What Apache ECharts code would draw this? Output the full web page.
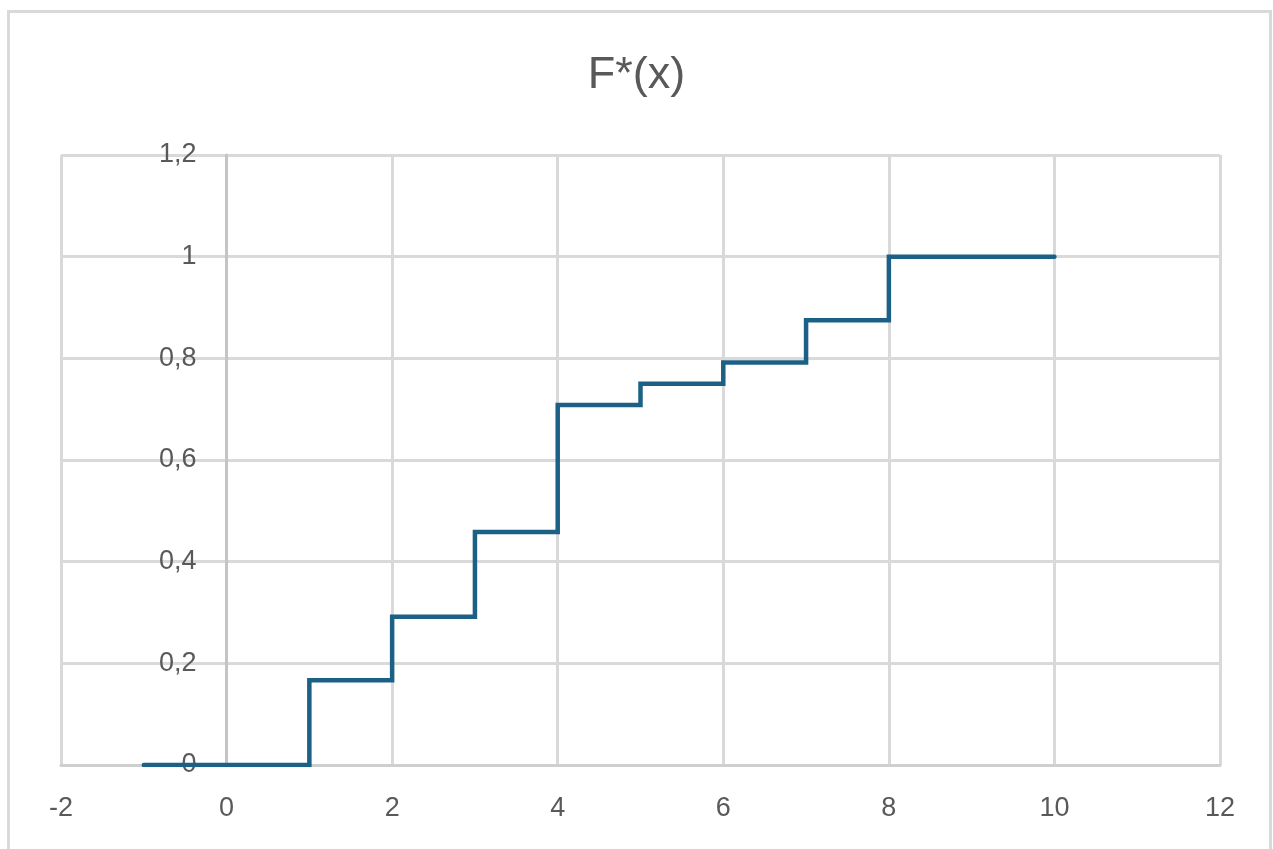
<!DOCTYPE html>
<html>
<head>
<meta charset="utf-8">
<script src="https://cdn.jsdelivr.net/npm/echarts@6/dist/echarts.min.js"></script>
<style>
html,body{margin:0;padding:0;background:#fff;}
#chart{width:1273px;height:849px;}
</style>
</head>
<body>
<div id="chart"></div>
<script>
const titleText = 'F*(x)';
const xValues = [-1, 1, 2, 3, 4, 5, 6, 7, 8, 10];
const yValues = [0, 0.1667, 0.2917, 0.4583, 0.7083, 0.75, 0.7917, 0.875, 1, 1];
const xAxisRange = [-2, 12, 2];
const yAxisRange = [0, 1.2, 0.2];

const FONT = '"Liberation Sans", Arial, sans-serif';
const GRID_LEFT = 61;
const chart = echarts.init(document.getElementById('chart'), null, {renderer: 'canvas'});
const option = {
  animation: false,
  backgroundColor: '#fff',
  graphic: [{
    type: 'rect', silent: true,
    shape: {x: 8.5, y: 11.5, width: 1262, height: 860},
    style: {fill: 'none', stroke: '#d9d9d9', lineWidth: 3}
  }],
  title: {
    text: titleText, left: 'center', top: 48,
    textStyle: {fontFamily: FONT, fontSize: 45, fontWeight: 'normal', color: '#595959'}
  },
  grid: {left: GRID_LEFT, right: 53, top: 155, bottom: 84, containLabel: false, outerBoundsMode: 'none'},
  xAxis: {
    type: 'value', min: xAxisRange[0], max: xAxisRange[1], interval: xAxisRange[2],
    axisLine: {show: true, onZero: true, lineStyle: {color: '#cfcfcf', width: 3}},
    axisTick: {show: false},
    axisLabel: {margin: 30, color: '#595959', fontFamily: FONT, fontSize: 27},
    splitLine: {show: true, lineStyle: {color: '#d9d9d9', width: 3}}
  },
  yAxis: {
    type: 'value', min: yAxisRange[0], max: yAxisRange[1], interval: yAxisRange[2],
    offset: 0,
    axisLine: {show: true, onZero: false, lineStyle: {color: '#c4c4c4', width: 3}},
    axisTick: {show: false},
    axisLabel: {margin: 30, color: '#595959', fontFamily: FONT, fontSize: 27, padding: [5, 0, 0, 0],
      formatter: v => String(Math.round(v * 10) / 10).replace('.', ',')},
    splitLine: {show: true, lineStyle: {color: '#d9d9d9', width: 3}}
  },
  series: [{
    type: 'line', step: 'end', symbol: 'none',
    data: xValues.map((x, i) => [x, yValues[i]]),
    lineStyle: {color: '#1c6185', width: 4.5, cap: 'round', join: 'miter'}
  }]
};
chart.setOption(option);
// place the vertical axis (line + labels) at x = 0, as in the reference
const zeroPx = chart.convertToPixel({xAxisIndex: 0}, 0);
chart.setOption({yAxis: {offset: -(zeroPx - GRID_LEFT)}});
</script>
</body>
</html>
